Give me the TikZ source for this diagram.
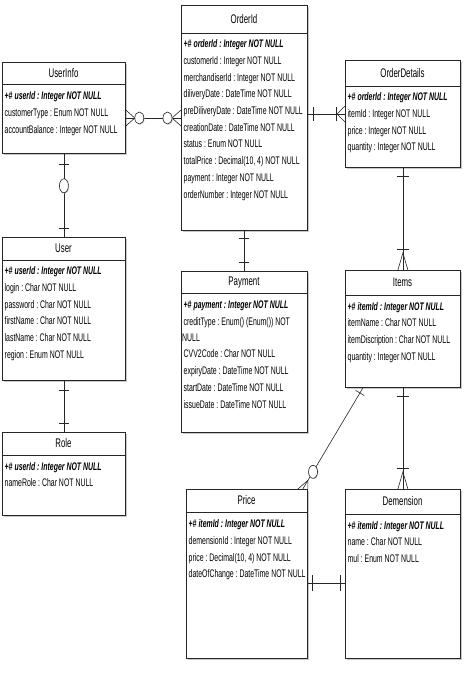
\documentclass[tikz,border=0pt]{standalone}
\usepackage{fontspec}
\setmainfont{Liberation Sans}[FakeStretch=0.63]
\frenchspacing
\usetikzlibrary{shadows,calc}
\tikzset{
  ebox/.style={draw=black!85, line width=0.8pt, fill=white, rectangle, inner sep=0pt, anchor=north west,
    drop shadow={shadow xshift=1.4pt, shadow yshift=-1.4pt, fill=black!30, opacity=0.7}},
  hdr/.style={draw=black!85, line width=0.7pt},
  etitle/.style={font=\fontsize{12.5}{14}\selectfont, inner sep=0pt, anchor=center},
  eattr/.style={font=\fontsize{11}{13}\selectfont, inner sep=0pt, anchor=west, text height=7.5pt, text depth=2pt},
  ekey/.style={eattr, font=\fontsize{11}{13}\selectfont\bfseries\itshape},
  conn/.style={draw=black!85, line width=0.6pt},
  zero/.style={conn, fill=white, drop shadow={shadow xshift=0.8pt, shadow yshift=-0.8pt, fill=black!25, opacity=0.7}},
}
\begin{document}
\begin{tikzpicture}[x=1pt,y=-1pt]
\useasboundingbox[fill=white] (0,0) rectangle (473,686);

% ---------------- entities ----------------
% UserInfo
\node[ebox, minimum width=123pt, minimum height=91pt] (userinfo) at (2,62) {};
\draw[hdr] (userinfo.west |- 0,84) -- (userinfo.east |- 0,84);
\node[etitle] (userinfo-t) at (63.5,73) {UserInfo};
\node[ekey]  (userinfo-a1) at (4.5,97) {+\# userId : Integer NOT NULL};
\node[eattr] (userinfo-a2) at (4.5,114) {customerType : Enum NOT NULL};
\node[eattr] (userinfo-a3) at (4.5,131) {accountBalance : Integer NOT NULL};

% OrderId
\node[ebox, minimum width=126pt, minimum height=225pt] (orderid) at (181,5) {};
\draw[hdr] (orderid.west |- 0,33) -- (orderid.east |- 0,33);
\node[etitle] (orderid-t) at (244,19) {OrderId};
\node[ekey]  (orderid-a1) at (183.5,45) {+\# orderId : Integer NOT NULL};
\node[eattr] (orderid-a2) at (183.5,61.7) {customerId : Integer NOT NULL};
\node[eattr] (orderid-a3) at (183.5,78.4) {merchandiserId : Integer NOT NULL};
\node[eattr] (orderid-a4) at (183.5,95.1) {diliveryDate : DateTime NOT NULL};
\node[eattr] (orderid-a5) at (183.5,111.8) {preDiliveryDate : DateTime NOT NULL};
\node[eattr] (orderid-a6) at (183.5,128.5) {creationDate : DateTime NOT NULL};
\node[eattr] (orderid-a7) at (183.5,145.2) {status : Enum NOT NULL};
\node[eattr] (orderid-a8) at (183.5,161.9) {totalPrice : Decimal(10, 4) NOT NULL};
\node[eattr] (orderid-a9) at (183.5,178.6) {payment : Integer NOT NULL};
\node[eattr] (orderid-a10) at (183.5,195.3) {orderNumber : Integer NOT NULL};

% OrderDetails
\node[ebox, minimum width=115pt, minimum height=107pt] (orderdetails) at (345,60) {};
\draw[hdr] (orderdetails.west |- 0,86) -- (orderdetails.east |- 0,86);
\node[etitle] (orderdetails-t) at (402.5,73) {OrderDetails};
\node[ekey]  (orderdetails-a1) at (347.5,98) {+\# orderId : Integer NOT NULL};
\node[eattr] (orderdetails-a2) at (347.5,114.7) {itemId : Integer NOT NULL};
\node[eattr] (orderdetails-a3) at (347.5,131.4) {price : Integer NOT NULL};
\node[eattr] (orderdetails-a4) at (347.5,148.1) {quantity : Integer NOT NULL};

% User
\node[ebox, minimum width=123pt, minimum height=143pt] (user) at (2,237) {};
\draw[hdr] (user.west |- 0,260) -- (user.east |- 0,260);
\node[etitle] (user-t) at (63.5,248.5) {User};
\node[ekey]  (user-a1) at (4.5,272) {+\# userId : Integer NOT NULL};
\node[eattr] (user-a2) at (4.5,288.7) {login : Char NOT NULL};
\node[eattr] (user-a3) at (4.5,305.4) {password : Char NOT NULL};
\node[eattr] (user-a4) at (4.5,322.1) {firstName : Char NOT NULL};
\node[eattr] (user-a5) at (4.5,338.8) {lastName : Char NOT NULL};
\node[eattr] (user-a6) at (4.5,355.5) {region : Enum NOT NULL};

% Payment
\node[ebox, minimum width=126pt, minimum height=161pt] (payment) at (181,271) {};
\draw[hdr] (payment.west |- 0,293) -- (payment.east |- 0,293);
\node[etitle] (payment-t) at (244,282) {Payment};
\node[ekey]  (payment-a1) at (183.5,306) {+\# payment : Integer NOT NULL};
\node[eattr] (payment-a2) at (183.5,322.5) {creditType : Enum() (Enum()) NOT};
\node[eattr] (payment-a2b) at (182,338.5) {NULL};
\node[eattr] (payment-a3) at (183.5,355.2) {CVV2Code : Char NOT NULL};
\node[eattr] (payment-a4) at (183.5,371.9) {expiryDate : DateTime NOT NULL};
\node[eattr] (payment-a5) at (183.5,388.6) {startDate : DateTime NOT NULL};
\node[eattr] (payment-a6) at (183.5,405.3) {issueDate : DateTime NOT NULL};

% Items
\node[ebox, minimum width=115pt, minimum height=117pt] (items) at (345,270) {};
\draw[hdr] (items.west |- 0,295) -- (items.east |- 0,295);
\node[etitle] (items-t) at (402.5,282.5) {Items};
\node[ekey]  (items-a1) at (347.5,307.5) {+\# itemId : Integer NOT NULL};
\node[eattr] (items-a2) at (347.5,324.2) {itemName : Char NOT NULL};
\node[eattr] (items-a3) at (347.5,340.9) {itemDiscription : Char NOT NULL};
\node[eattr] (items-a4) at (347.5,357.6) {quantity : Integer NOT NULL};

% Role
\node[ebox, minimum width=123pt, minimum height=83pt] (role) at (2,432) {};
\draw[hdr] (role.west |- 0,455) -- (role.east |- 0,455);
\node[etitle] (role-t) at (63.5,443.5) {Role};
\node[ekey]  (role-a1) at (4.5,467.5) {+\# userId : Integer NOT NULL};
\node[eattr] (role-a2) at (4.5,484.2) {nameRole : Char NOT NULL};

% Price
\node[ebox, minimum width=121pt, minimum height=169pt] (price) at (186,489) {};
\draw[hdr] (price.west |- 0,512) -- (price.east |- 0,512);
\node[etitle] (price-t) at (246.5,500.5) {Price};
\node[ekey]  (price-a1) at (188.5,525) {+\# itemId : Integer NOT NULL};
\node[eattr] (price-a2) at (188.5,541.7) {demensionId : Integer NOT NULL};
\node[eattr] (price-a3) at (188.5,558.4) {price : Decimal(10, 4) NOT NULL};
\node[eattr] (price-a4) at (188.5,575.1) {dateOfChange : DateTime NOT NULL};

% Demension
\node[ebox, minimum width=115pt, minimum height=169pt] (demension) at (345,489) {};
\draw[hdr] (demension.west |- 0,514) -- (demension.east |- 0,514);
\node[etitle] (demension-t) at (402.5,501.5) {Demension};
\node[ekey]  (demension-a1) at (347.5,526.5) {+\# itemId : Integer NOT NULL};
\node[eattr] (demension-a2) at (347.5,543.2) {name : Char NOT NULL};
\node[eattr] (demension-a3) at (347.5,559.9) {mul : Enum NOT NULL};

% ---------------- connectors ----------------
% UserInfo -- OrderId (zero-or-many both ends)
\coordinate (ui-e) at (userinfo.east |- 0,118);
\coordinate (oi-w) at (orderid.west |- 0,118);
\draw[conn] (ui-e) -- (oi-w);
\draw[conn] ($(ui-e)+(0,-8)$) -- ($(ui-e)+(9,0)$) -- ($(ui-e)+(0,8)$);
\draw[zero] ($(ui-e)+(13.5,0)$) ellipse [x radius=4.5pt, y radius=6pt];
\draw[conn] ($(oi-w)+(0,-8)$) -- ($(oi-w)+(-9,0)$) -- ($(oi-w)+(0,8)$);
\draw[zero] ($(oi-w)+(-13.5,0)$) ellipse [x radius=4.5pt, y radius=6pt];

% UserInfo -- User
\draw[conn] (userinfo.south) -- (user.north);
\draw[conn] ($(userinfo.south)+(-5,10)$) -- ($(userinfo.south)+(5,10)$);
\draw[zero] ($(userinfo.south)+(0,32)$) ellipse [x radius=4.5pt, y radius=7pt];
\draw[conn] ($(user.north)+(-5,-9)$) -- ($(user.north)+(5,-9)$);

% User -- Role
\draw[conn] (user.south) -- (role.north);
\draw[conn] ($(user.south)+(-5,9)$) -- ($(user.south)+(5,9)$);
\draw[conn] ($(role.north)+(-5,-9)$) -- ($(role.north)+(5,-9)$);

% OrderId -- Payment
\draw[conn] (orderid.south) -- (payment.north);
\draw[conn] ($(orderid.south)+(-5,7)$) -- ($(orderid.south)+(5,7)$);
\draw[conn] ($(payment.north)+(-5,-9)$) -- ($(payment.north)+(5,-9)$);

% OrderId -- OrderDetails
\coordinate (oi-e) at (orderid.east |- 0,114);
\coordinate (od-w) at (orderdetails.west |- 0,114);
\draw[conn] (oi-e) -- (od-w);
\draw[conn] ($(oi-e)+(5,-7)$) -- ($(oi-e)+(5,7)$);
\draw[conn] ($(od-w)+(-9,-7)$) -- ($(od-w)+(-9,7)$);
\draw[conn] ($(od-w)+(0,-8)$) -- ($(od-w)+(-8,0)$) -- ($(od-w)+(0,8)$);

% OrderDetails -- Items
\draw[conn] (orderdetails.south) -- (items.north);
\draw[conn] ($(orderdetails.south)+(-6,8)$) -- ($(orderdetails.south)+(6,8)$);
\draw[conn] ($(items.north)+(-6,-21)$) -- ($(items.north)+(6,-21)$);
\draw[conn] ($(items.north)+(-5,0)$) -- ($(items.north)+(0,-17)$) -- ($(items.north)+(5,0)$);

% Items -- Demension
\draw[conn] (items.south) -- (demension.north);
\draw[conn] ($(items.south)+(-6,8)$) -- ($(items.south)+(6,8)$);
\draw[conn] ($(demension.north)+(-6,-21)$) -- ($(demension.north)+(6,-21)$);
\draw[conn] ($(demension.north)+(-5,0)$) -- ($(demension.north)+(0,-17)$) -- ($(demension.north)+(5,0)$);

% Items -- Price (diagonal)
\coordinate (it-s) at ($(items.south west)+(18,0)$);
\coordinate (pr-n) at ($(price.north east)+(-5,0)$);
\draw[conn] (it-s) -- (pr-n);
\coordinate (it-bar) at ($(it-s)!6pt!(pr-n)$);
\draw[conn] ($(it-bar)!5pt!90:(pr-n)$) -- ($(it-bar)!5pt!-90:(pr-n)$);
\coordinate (pr-apex) at ($(pr-n)!10pt!(it-s)$);
\draw[conn] ($(pr-n)+(-5,0)$) -- (pr-apex) -- ($(pr-n)+(5,0)$);
\draw[zero] ($(pr-n)!20pt!(it-s)$) ellipse [x radius=4.5pt, y radius=6.5pt];

% Price -- Demension
\coordinate (pr-e) at (price.east |- 0,583);
\coordinate (dm-w) at (demension.west |- 0,583);
\draw[conn] (pr-e) -- (dm-w);
\draw[conn] ($(pr-e)+(4,-8)$) -- ($(pr-e)+(4,8)$);
\draw[conn] ($(dm-w)+(-5,-8)$) -- ($(dm-w)+(-5,8)$);
\end{tikzpicture}
\end{document}
